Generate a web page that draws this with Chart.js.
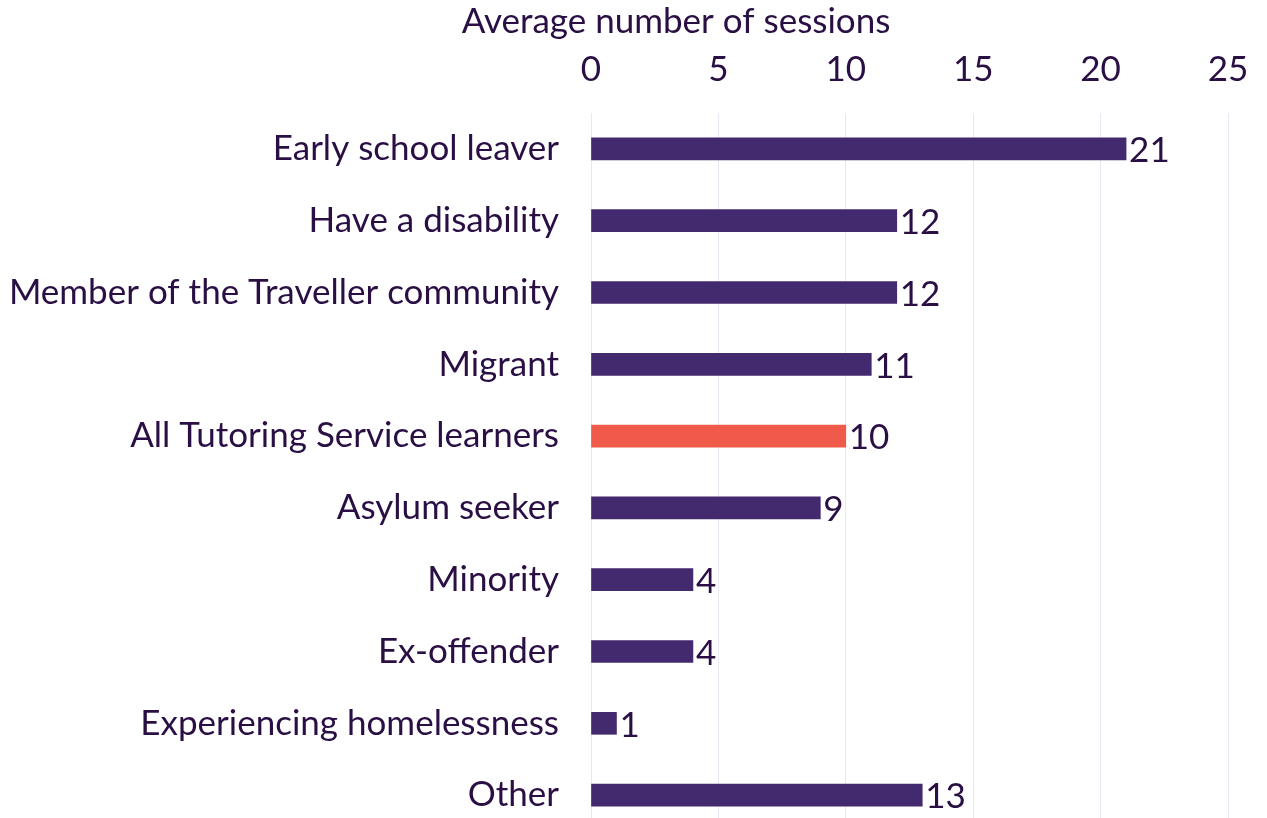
<!DOCTYPE html>
<html>
<head>
<meta charset="utf-8">
<script src="https://cdn.jsdelivr.net/npm/chart.js@4/dist/chart.umd.min.js"></script>
<style>
  html, body { margin: 0; padding: 0; background: #fff; overflow: hidden; }
  #wrap { width: 1267px; height: 818px; overflow: hidden; }
  canvas { display: block; }
</style>
</head>
<body>
<div id="wrap"><canvas id="sessionsChart" width="1267" height="884"></canvas></div>
<script>
const categories = [
  'Early school leaver',
  'Have a disability',
  'Member of the Traveller community',
  'Migrant',
  'All Tutoring Service learners',
  'Asylum seeker',
  'Minority',
  'Ex-offender',
  'Experiencing homelessness',
  'Other'
];
const sessions = [21, 12, 12, 11, 10, 9, 4, 4, 1, 13];
const xTicks = [0, 5, 10, 15, 20, 25];
const axisTitle = 'Average number of sessions';

const textColor = '#2a0f45';
const barColor = '#43296e';
const highlightColor = '#f05a4a';
const fontFamily = 'Lato, "Open Sans", sans-serif';
const fontSize = 35;

// colour the overall average differently from the groups
const barColors = categories.map(c => c === 'All Tutoring Service learners' ? highlightColor : barColor);

// value printed just past the end of each bar
const valueLabels = {
  id: 'valueLabels',
  afterDatasetsDraw(chart) {
    const ctx = chart.ctx;
    const meta = chart.getDatasetMeta(0);
    ctx.save();
    ctx.fillStyle = textColor;
    ctx.font = fontSize + 'px ' + fontFamily;
    ctx.textAlign = 'left';
    ctx.textBaseline = 'middle';
    meta.data.forEach((bar, i) => {
      ctx.fillText(String(sessions[i]), bar.x + 3, bar.y + 2);
    });
    ctx.restore();
  }
};

// heading above the tick labels
const heading = {
  id: 'heading',
  afterDraw(chart) {
    const ctx = chart.ctx;
    ctx.save();
    ctx.fillStyle = textColor;
    ctx.font = fontSize + 'px ' + fontFamily;
    ctx.textAlign = 'center';
    ctx.textBaseline = 'middle';
    ctx.fillText(axisTitle, 676, 22);
    ctx.restore();
  }
};

const ctx = document.getElementById('sessionsChart').getContext('2d');
new Chart(ctx, {
  type: 'bar',
  data: {
    labels: categories,
    datasets: [{
      label: axisTitle,
      data: sessions,
      backgroundColor: barColors,
      barThickness: 22
    }]
  },
  options: {
    indexAxis: 'y',
    responsive: false,
    animation: false,
    layout: { padding: { top: 27, left: 6, right: 39, bottom: 2 } },
    plugins: {
      legend: { display: false },
      tooltip: { enabled: false }
    },
    scales: {
      x: {
        position: 'top',
        min: 0,
        max: 25,
        afterBuildTicks(scale) {
          scale.ticks = xTicks.map(v => ({ value: v }));
        },
        afterFit(scale) {
          // let the last tick label hang into the right margin
          scale.paddingRight = 0;
        },
        grid: { color: '#ebe6f3', lineWidth: 1, drawTicks: false },
        border: { display: false },
        ticks: {
          color: textColor,
          font: { family: fontFamily, size: fontSize },
          padding: 22
        }
      },
      y: {
        afterFit(scale) {
          scale.width = 585;
        },
        grid: { display: false, drawTicks: false },
        border: { display: false },
        ticks: {
          color: textColor,
          font: { family: fontFamily, size: fontSize },
          padding: 32
        }
      }
    }
  },
  plugins: [valueLabels, heading]
});
</script>
</body>
</html>
